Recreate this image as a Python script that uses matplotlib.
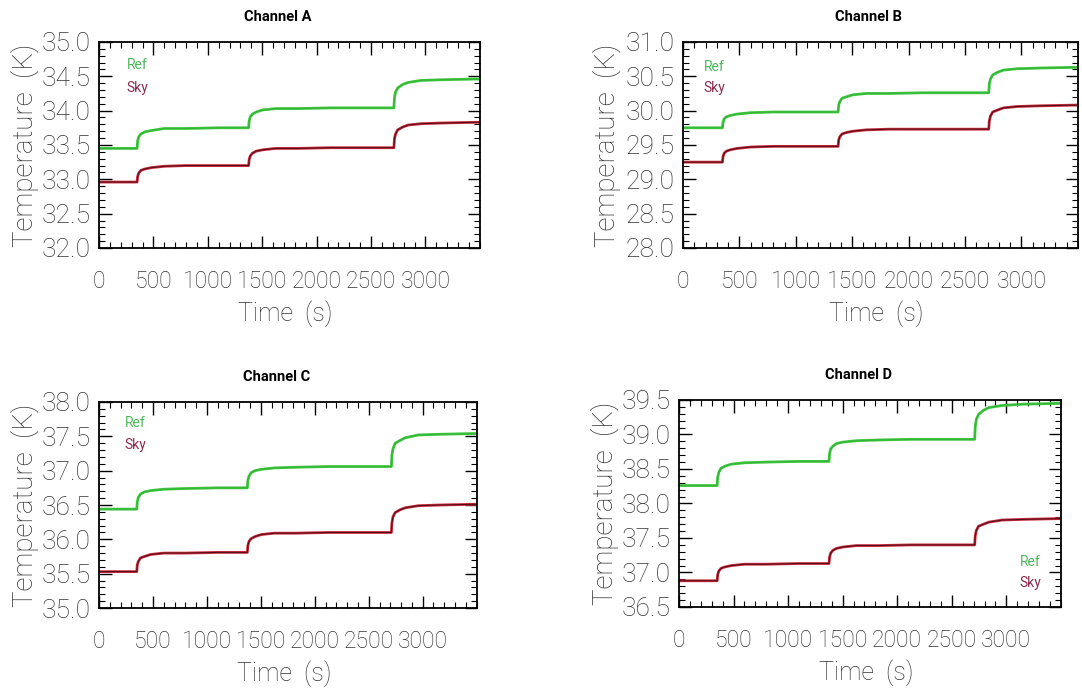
import matplotlib
matplotlib.use("Agg")
import matplotlib.pyplot as plt
from matplotlib.ticker import MultipleLocator, FormatStrFormatter

thin = ['Roboto', 'DejaVu Sans']

# time grid (s)
time = [0,
        350, 355, 365, 385, 420, 480, 600, 800, 1100,
        1375, 1380, 1390, 1410, 1445, 1505, 1625, 1825, 2125,
        2710, 2715, 2725, 2745, 2790, 2840, 2960, 3160, 3460,
        3500]

ref_a = [33.45,
         33.45, 33.56, 33.62, 33.66, 33.69, 33.71, 33.74, 33.74, 33.75,
         33.75, 33.85, 33.91, 33.95, 33.98, 34.01, 34.03, 34.03, 34.04,
         34.04, 34.19, 34.27, 34.33, 34.38, 34.41, 34.44, 34.45, 34.46,
         34.46]
sky_a = [32.96,
         32.96, 33.04, 33.09, 33.13, 33.15, 33.17, 33.19, 33.20, 33.20,
         33.20, 33.29, 33.34, 33.38, 33.41, 33.43, 33.45, 33.45, 33.46,
         33.46, 33.59, 33.66, 33.72, 33.76, 33.79, 33.81, 33.82, 33.83,
         33.83]
ref_b = [29.75,
         29.75, 29.83, 29.88, 29.91, 29.93, 29.95, 29.97, 29.98, 29.98,
         29.98, 30.08, 30.13, 30.18, 30.20, 30.23, 30.25, 30.25, 30.26,
         30.26, 30.39, 30.46, 30.52, 30.56, 30.59, 30.61, 30.62, 30.63,
         30.63]
sky_b = [29.25,
         29.25, 29.33, 29.38, 29.41, 29.43, 29.45, 29.47, 29.48, 29.48,
         29.48, 29.57, 29.62, 29.66, 29.68, 29.70, 29.72, 29.73, 29.73,
         29.73, 29.85, 29.92, 29.98, 30.01, 30.04, 30.06, 30.07, 30.08,
         30.08]
ref_c = [36.44,
         36.44, 36.55, 36.61, 36.66, 36.69, 36.71, 36.73, 36.74, 36.75,
         36.75, 36.86, 36.92, 36.97, 37.00, 37.02, 37.04, 37.05, 37.06,
         37.06, 37.23, 37.32, 37.40, 37.44, 37.48, 37.52, 37.53, 37.54,
         37.54]
sky_c = [35.53,
         35.53, 35.63, 35.68, 35.73, 35.75, 35.78, 35.80, 35.80, 35.81,
         35.81, 35.91, 35.97, 36.01, 36.04, 36.07, 36.09, 36.09, 36.10,
         36.10, 36.24, 36.33, 36.39, 36.43, 36.46, 36.49, 36.50, 36.51,
         36.51]
ref_d = [38.26,
         38.26, 38.38, 38.45, 38.51, 38.54, 38.57, 38.59, 38.60, 38.61,
         38.61, 38.72, 38.79, 38.83, 38.87, 38.89, 38.91, 38.92, 38.93,
         38.93, 39.11, 39.22, 39.29, 39.35, 39.39, 39.42, 39.44, 39.45,
         39.45]
sky_d = [36.88,
         36.88, 36.97, 37.02, 37.06, 37.08, 37.10, 37.12, 37.12, 37.13,
         37.13, 37.22, 37.28, 37.32, 37.35, 37.37, 37.39, 37.39, 37.40,
         37.40, 37.53, 37.61, 37.67, 37.70, 37.73, 37.76, 37.77, 37.78,
         37.78]

titles = ["Channel A", "Channel B", "Channel C", "Channel D"]
y_ranges = [(32.0, 35.0), (28.0, 31.0), (35.0, 38.0), (36.5, 39.5)]
x_ticks = [0, 500, 1000, 1500, 2000, 2500, 3000]

# axes boxes in figure fractions [left, bottom, width, height]
boxes = [[0.0915, 0.6406, 0.352, 0.2986],
         [0.6312, 0.6406, 0.365, 0.2986],
         [0.0915, 0.1188, 0.349, 0.2986],
         [0.6275, 0.1203, 0.353, 0.300]]
# legend text places (axes fractions): x, y of "Ref", y of "Sky"
legend_pos = [(0.10, 0.888, 0.777),
              (0.08, 0.880, 0.775),
              (0.095, 0.898, 0.790),
              (0.92, 0.217, 0.116)]

refs = [ref_a, ref_b, ref_c, ref_d]
skys = [sky_a, sky_b, sky_c, sky_d]

green = '#3cc83c'
red = '#c8283a'
txt = '#333333'

fig = plt.figure(figsize=(10.82, 6.90), dpi=100)

for i in range(4):
    ax = fig.add_axes(boxes[i])
    ax.plot(time, refs[i], color=green, lw=2.0)
    ax.plot(time, refs[i], color='#35a83a', lw=0.5)
    ax.plot(time, skys[i], color=red, lw=2.0)
    ax.plot(time, skys[i], color='#4a0d16', lw=0.7)

    ax.set_xlim(0, 3500)
    ax.set_ylim(*y_ranges[i])
    ax.set_xticks(x_ticks)
    ax.yaxis.set_major_locator(MultipleLocator(0.5))
    ax.yaxis.set_minor_locator(MultipleLocator(0.1))
    ax.xaxis.set_minor_locator(MultipleLocator(100))
    ax.yaxis.set_major_formatter(FormatStrFormatter('%.1f'))

    ax.tick_params(which='both', direction='in', top=True, right=True)
    ax.tick_params(which='major', length=9, width=1)
    ax.tick_params(which='minor', length=4.5, width=0.8)
    ax.tick_params(axis='y', labelsize=19, pad=6)
    ax.tick_params(axis='x', labelsize=16.5, pad=16)
    for lab in ax.get_xticklabels() + ax.get_yticklabels():
        lab.set_family(thin)
        lab.set_fontweight('light')
        lab.set_color(txt)
    yt = ax.yaxis.get_major_ticks()
    yt[0].label1.set_va('bottom')
    yt[-1].label1.set_va('top')

    for s in ax.spines.values():
        s.set_linewidth(1.3)

    ax.set_ylabel("Temperature  (K)", fontsize=20, family=thin,
                  fontweight='light', color=txt)
    ax.yaxis.set_label_coords(-0.158, 0.5)
    ax.set_xlabel("Time  (s)", fontsize=18, family=thin,
                  fontweight='light', color=txt)
    ax.xaxis.set_label_coords(0.49, -0.255)

    ax.text(0.47, 1.12, titles[i], transform=ax.transAxes, ha='center',
            va='center', fontsize=10.5, fontweight='bold', family=thin)

    lx, ly_ref, ly_sky = legend_pos[i]
    ax.text(lx, ly_ref, "Ref", transform=ax.transAxes, ha='center',
            va='center', fontsize=10, color='#4cb85a', family=thin)
    ax.text(lx, ly_sky, "Sky", transform=ax.transAxes, ha='center',
            va='center', fontsize=10, color='#8c2a50', family=thin)

fig.savefig("out.png", dpi=100)
